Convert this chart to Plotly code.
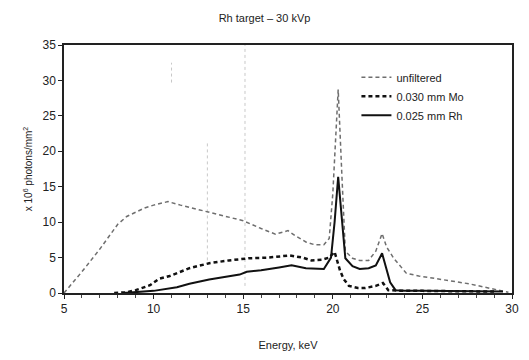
import plotly.graph_objects as go

# ---- data ----
unf_e = [5.0, 6.0, 7.0, 8.0, 8.5, 9.0, 9.5, 10.0, 10.8, 11.5, 12.0, 13.0, 14.0, 15.0, 16.0, 16.8,
         17.5, 17.9, 18.5, 19.0, 19.5, 19.8, 20.0, 20.3, 20.5, 20.7, 21.1, 21.5, 22.0, 22.4, 22.75,
         23.0, 23.4, 24.1, 24.8, 25.7, 26.6, 27.6, 28.5, 29.4, 29.8]
unf_v = [0.0, 3.0, 6.2, 9.7, 10.8, 11.4, 12.0, 12.4, 12.9, 12.4, 12.1, 11.5, 10.9, 10.2, 9.1, 8.3,
         8.8, 8.1, 7.2, 6.8, 6.8, 7.7, 14.0, 28.7, 17.0, 5.9, 4.9, 4.6, 4.6, 5.9, 8.4,
         6.5, 4.9, 2.8, 2.4, 2.1, 1.7, 1.3, 0.8, 0.3, 0.1]

mo_e = [7.8, 8.5, 9.0, 9.8, 10.3, 10.9, 12.0, 13.1, 14.2, 15.3, 16.4, 17.6, 18.3, 18.8, 19.4, 19.8,
        20.1, 20.4, 20.6, 20.9, 21.4, 21.8, 22.4, 22.8, 23.1, 24.0, 25.0, 26.0, 27.0, 28.0, 29.0]
mo_v = [0.0, 0.1, 0.4, 1.1, 2.0, 2.4, 3.5, 4.2, 4.6, 4.9, 5.0, 5.3, 5.0, 4.6, 4.7, 5.0,
        5.8, 3.2, 2.0, 1.0, 0.7, 0.7, 1.0, 1.4, 0.4, 0.3, 0.3, 0.3, 0.3, 0.25, 0.2]

rh_e = [8.3, 9.0, 10.0, 11.3, 12.0, 13.1, 14.0, 14.8, 15.2, 16.0, 17.0, 17.7, 18.5, 19.0, 19.5, 19.9,
        20.1, 20.3, 20.5, 20.7, 21.1, 21.5, 22.0, 22.4, 22.75, 23.0, 23.2, 23.5, 24.0, 25.0, 26.0,
        27.0, 28.0, 29.0, 29.5]
rh_v = [0.0, 0.1, 0.3, 0.8, 1.3, 1.9, 2.3, 2.6, 3.0, 3.2, 3.6, 3.9, 3.5, 3.4, 3.4, 5.0,
        10.0, 16.4, 10.0, 4.9, 3.8, 3.4, 3.5, 3.9, 5.6, 3.5, 1.5, 0.4, 0.3, 0.3, 0.3,
        0.3, 0.3, 0.25, 0.2]

# faint scan artefacts (vertical dotted streaks) in the original picture
streak_x = [11.0, 13.0, 15.1]
streak_y0 = [29.7, 4.6, 1.0]
streak_y1 = [32.5, 21.3, 35.0]

x_ticks = [5, 10, 15, 20, 25, 30]
y_ticks = [0, 5, 10, 15, 20, 25, 30, 35]

FONT = "Liberation Sans, Arial, sans-serif"

fig = go.Figure()

for sx, a, b in zip(streak_x, streak_y0, streak_y1):
    fig.add_trace(go.Scatter(x=[sx, sx], y=[a, b], mode="lines", showlegend=False,
                             hoverinfo="skip",
                             line=dict(color="#c8c8c8", width=1, dash="dot")))

fig.add_trace(go.Scatter(x=unf_e, y=unf_v, mode="lines", name="unfiltered",
                         line=dict(color="#6e6e6e", width=1.5, dash="4px,3px")))
fig.add_trace(go.Scatter(x=mo_e, y=mo_v, mode="lines", name="0.030 mm Mo",
                         line=dict(color="#111111", width=2.5, dash="4px,3px")))
fig.add_trace(go.Scatter(x=rh_e, y=rh_v, mode="lines", name="0.025 mm Rh",
                         line=dict(color="#111111", width=2)))

fig.update_layout(
    width=529, height=360,
    margin=dict(l=64, r=10, t=45, b=65),
    paper_bgcolor="white", plot_bgcolor="white",
    font=dict(family=FONT, color="#222", size=11),
    title=dict(text="Rh target – 30 kVp", x=0.5, xanchor="center", y=1 - 18 / 360,
               yanchor="middle", font=dict(size=11, family=FONT)),
    legend=dict(x=(361 - 64) / 455, y=(295 - 63) / 250, xanchor="left", yanchor="top",
                bgcolor="rgba(0,0,0,0)", font=dict(size=11, family=FONT),
                itemwidth=30, tracegroupgap=0),
    showlegend=True,
)
fig.update_xaxes(range=[5, 30], tickvals=x_ticks, ticktext=[str(t) for t in x_ticks],
                 showgrid=False, zeroline=False, showline=True, linecolor="#222",
                 linewidth=1.5, mirror=True, ticks="outside", ticklen=4, tickcolor="#222",
                 tickfont=dict(size=12, family=FONT),
                 minor=dict(dtick=1, ticks="outside", ticklen=3, tickcolor="#444"),
                 title=dict(text="Energy, keV", font=dict(size=11, family=FONT), standoff=26))
fig.update_yaxes(range=[0, 35], tickvals=y_ticks, showgrid=False, zeroline=False,
                 showline=True, linecolor="#222", linewidth=1.5, mirror=True,
                 ticks="outside", ticklen=4, tickcolor="#222",
                 tickfont=dict(size=12, family=FONT),
                 title=dict(text="x 10<sup>6</sup> photons/mm<sup>2</sup>",
                            font=dict(size=10, family=FONT), standoff=8))

fig.write_html("out.html")
